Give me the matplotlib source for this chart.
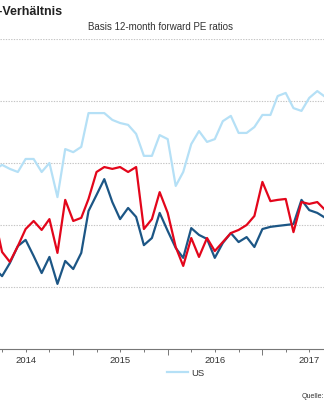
import numpy as np
import pandas as pd
import matplotlib
matplotlib.use('Agg')
import matplotlib.pyplot as plt
import matplotlib.dates as mdates
from matplotlib.ticker import FuncFormatter

plt.rcParams['font.family'] = ['Liberation Sans', 'DejaVu Sans']

# Monatswerte, 12-Monats-Forward-KGV
monate = pd.date_range('2014-03-01', '2017-09-01', freq='MS')

us = [15.77, 15.94, 15.81, 15.71, 16.13, 16.13, 15.71, 16.00, 14.90, 16.45,
      16.35, 16.52, 17.61, 17.61, 17.61, 17.39, 17.29, 17.23, 16.94, 16.23,
      16.23, 16.90, 16.77, 15.26, 15.71, 16.61, 17.03, 16.68, 16.77, 17.35,
      17.52, 16.97, 16.97, 17.16, 17.55, 17.55, 18.16, 18.26, 17.77, 17.68,
      18.10, 18.32, 18.13]

rot = [14.32, 13.13, 12.81, 13.32, 13.87, 14.13, 13.84, 14.19, 13.10, 14.81,
       14.13, 14.23, 14.84, 15.71, 15.87, 15.81, 15.87, 15.71, 15.87, 13.87,
       14.19, 15.06, 14.39, 13.29, 12.68, 13.58, 12.97, 13.58, 13.16, 13.45,
       13.74, 13.84, 14.00, 14.29, 15.39, 14.77, 14.81, 14.84, 13.77, 14.74,
       14.68, 14.74, 14.48]

blau = [12.61, 12.35, 12.77, 13.32, 13.52, 13.00, 12.45, 12.97, 12.10, 12.84,
        12.58, 13.10, 14.45, 14.97, 15.48, 14.74, 14.19, 14.55, 14.26, 13.35,
        13.58, 14.39, 13.81, 13.26, 12.94, 13.90, 13.68, 13.55, 12.94, 13.42,
        13.74, 13.45, 13.61, 13.29, 13.87, 13.94, 13.97, 14.00, 14.03, 14.81,
        14.48, 14.39, 14.23]

fig = plt.figure(figsize=(3.24, 4.0), dpi=100)
ax = fig.add_axes([0.0, 0.1275, 1.0, 0.775])

ax.plot(monate, us, color='#b5e0f6', lw=1.6, label='US', zorder=3)
ax.plot(monate, blau, color='#1c5685', lw=1.6, label='_nolegend_', zorder=4)
ax.plot(monate, rot, color='#e3061b', lw=1.6, label='_nolegend_', zorder=5)

ax.set_xlim(pd.Timestamp('2014-03-24'), pd.Timestamp('2017-08-27'))
ax.set_ylim(10, 20)
ax.set_yticks([12, 14, 16, 18, 20])
ax.grid(axis='y', color='#c4c4c4', linestyle=(0, (1.2, 1.2)), lw=0.8)
ax.tick_params(axis='y', left=False, labelleft=False)

# Quartalsstriche, Jahreszahl in der Jahresmitte, Jahreswechsel mit langem Strich
ax.xaxis.set_major_locator(mdates.MonthLocator(bymonth=[4, 7, 10]))
ax.xaxis.set_major_formatter(FuncFormatter(
    lambda v, p: mdates.num2date(v).strftime('%Y') if mdates.num2date(v).month == 7 else ''))
ax.xaxis.set_minor_locator(mdates.YearLocator())
ax.tick_params(axis='x', which='major', length=2.5, width=0.7, color='#777777',
               labelsize=6.8, labelcolor='#333333', pad=2.5)
ax.tick_params(axis='x', which='minor', length=4, width=0.7, color='#777777')

for s in ['top', 'right', 'left']:
    ax.spines[s].set_visible(False)
ax.spines['bottom'].set_color('#777777')
ax.spines['bottom'].set_linewidth(0.8)

fig.text(62 / 324, 1 - 12 / 400, 'KGV-Verhältnis', ha='right', va='center',
         fontsize=9, fontweight='bold', color='#222222')
fig.text(160 / 324, 1 - 27 / 400, 'Basis 12-month forward PE ratios', ha='center',
         va='center', fontsize=7, color='#333333')

fig.legend(loc='center', bbox_to_anchor=(186 / 324, 1 - 373 / 400), frameon=False,
           fontsize=6.8, handlelength=2.2, handletextpad=0.4, labelcolor='#333333')

fig.text(302 / 324, 1 - 396 / 400, 'Quelle:', ha='left', va='center',
         fontsize=5, color='#333333')

fig.savefig('out.png', dpi=100)
